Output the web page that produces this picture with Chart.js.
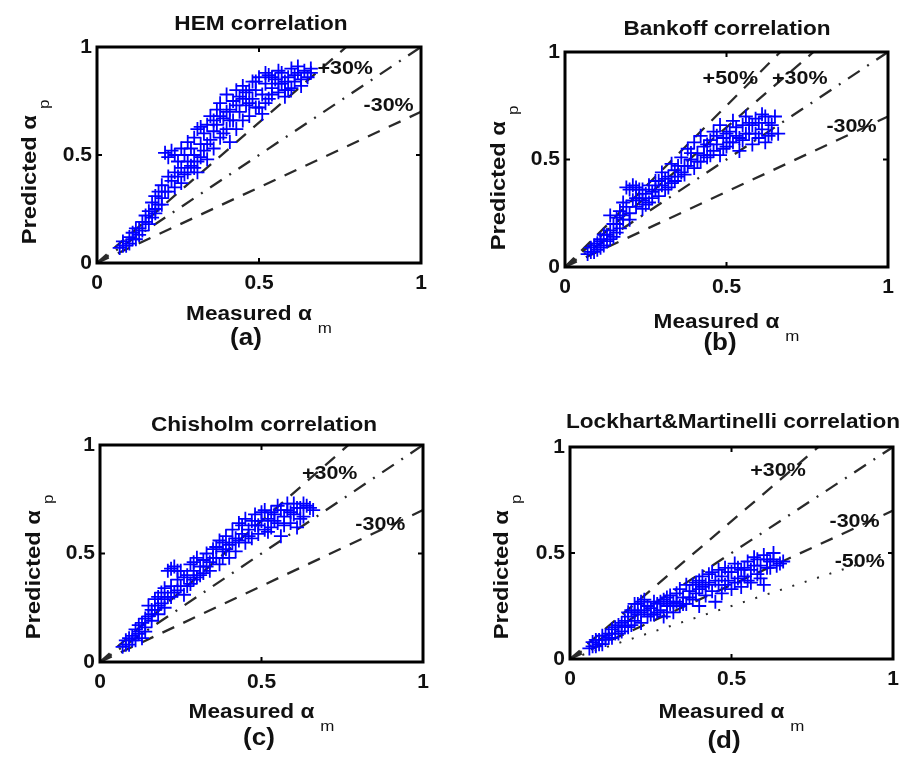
<!DOCTYPE html>
<html>
<head>
<meta charset="utf-8">
<script src="https://cdn.jsdelivr.net/npm/chart.js@4.4.1/dist/chart.umd.min.js"></script>
<style>
  html, body { margin: 0; padding: 0; background: #fff; }
  #wrap { position: relative; width: 908px; height: 766px; }
  .panel { position: absolute; width: 454px; height: 383px; }
</style>
</head>
<body>
<div id="wrap">
  <div class="panel" style="left:0;top:0"><canvas id="chartA" width="454" height="383"></canvas></div>
  <div class="panel" style="left:454px;top:0"><canvas id="chartB" width="454" height="383"></canvas></div>
  <div class="panel" style="left:0;top:383px"><canvas id="chartC" width="454" height="383"></canvas></div>
  <div class="panel" style="left:454px;top:383px"><canvas id="chartD" width="454" height="383"></canvas></div>
</div>
<script>
// tick values shared by both axes of every panel
const axisTicks = [0, 0.5, 1];

// (a) HEM correlation - measured vs predicted void fraction
const hemX = [0.07,0.08,0.09,0.10,0.10,0.11,0.12,0.12,0.13,0.14,0.14,0.15,0.16,0.16,0.17,0.17,0.18,0.18,0.19,0.19,
  0.20,0.20,0.21,0.22,0.23,0.22,0.23,0.24,0.24,0.25,0.25,0.26,0.27,0.27,0.28,0.29,0.29,0.30,0.30,0.31,
  0.31,0.31,0.32,0.33,0.33,0.34,0.35,0.35,0.36,0.37,0.37,0.38,0.38,0.39,0.40,0.40,0.41,0.41,0.42,0.42,
  0.43,0.44,0.44,0.45,0.46,0.46,0.47,0.48,0.48,0.49,0.50,0.50,0.51,0.51,0.52,0.53,0.53,0.54,0.55,0.56,
  0.57,0.57,0.58,0.58,0.59,0.60,0.60,0.61,0.62,0.63,0.64,0.66,
  0.08,0.11,0.13,0.15,0.18,0.20,0.21,0.22,0.24,0.26,0.26,0.28,0.28,0.30,0.32,0.32,0.34,0.34,0.36,0.36,
  0.38,0.39,0.40,0.41,0.43,0.43,0.45,0.45,0.47,0.47,0.49,0.49,0.52,0.52,0.54,0.54,0.56,0.56,0.58,0.59,
  0.61,0.62,0.63,0.65,0.66];
const hemY = [0.07,0.10,0.08,0.12,0.09,0.14,0.11,0.16,0.13,0.19,0.15,0.22,0.18,0.24,0.21,0.28,0.25,0.31,0.27,0.33,
  0.30,0.36,0.51,0.49,0.52,0.33,0.38,0.35,0.42,0.40,0.47,0.44,0.50,0.41,0.47,0.53,0.45,0.58,0.50,0.62,
  0.47,0.42,0.55,0.60,0.52,0.64,0.57,0.68,0.61,0.71,0.64,0.58,0.74,0.67,0.78,0.62,0.71,0.56,0.75,0.66,
  0.80,0.70,0.77,0.82,0.73,0.79,0.68,0.84,0.76,0.80,0.86,0.72,0.78,0.69,0.83,0.76,0.87,0.81,0.85,0.79,
  0.88,0.83,0.77,0.80,0.86,0.90,0.81,0.87,0.91,0.85,0.89,0.88,
  0.08,0.11,0.16,0.19,0.23,0.27,0.33,0.40,0.50,0.37,0.53,0.42,0.56,0.44,0.49,0.63,0.55,0.48,0.66,0.53,
  0.68,0.60,0.70,0.66,0.73,0.62,0.76,0.66,0.80,0.74,0.72,0.84,0.74,0.88,0.78,0.86,0.83,0.89,0.84,0.80,
  0.84,0.88,0.82,0.86,0.90];

// (b) Bankoff correlation
const bankoffX = [0.07,0.08,0.09,0.10,0.10,0.11,0.12,0.12,0.13,0.14,0.14,0.15,0.15,0.16,0.17,0.17,0.18,0.19,0.19,0.20,
  0.21,0.21,0.22,0.23,0.23,0.24,0.25,0.26,0.26,0.27,0.28,0.29,0.30,0.30,0.31,0.32,0.33,0.33,0.34,0.35,
  0.36,0.37,0.37,0.38,0.39,0.40,0.40,0.41,0.42,0.42,0.43,0.44,0.45,0.46,0.46,0.47,0.48,0.48,0.49,0.50,
  0.51,0.52,0.52,0.53,0.54,0.55,0.55,0.56,0.57,0.58,0.58,0.59,0.60,0.61,0.62,0.62,0.63,0.64,0.65,0.66,
  0.08,0.09,0.11,0.11,0.13,0.14,0.16,0.16,0.18,0.18,0.20,0.20,0.22,0.22,0.24,0.24,0.25,0.27,0.28,0.29,
  0.31,0.32,0.34,0.35,0.36,0.38,0.39,0.41,0.43,0.44,0.45,0.47,0.49,0.50,0.51,0.53,0.54,0.56,0.57,0.59,
  0.60,0.61,0.63,0.64];
const bankoffY = [0.06,0.09,0.07,0.11,0.08,0.13,0.10,0.15,0.12,0.17,0.24,0.14,0.20,0.23,0.18,0.26,0.22,0.28,0.37,0.25,
  0.38,0.31,0.28,0.36,0.32,0.27,0.34,0.30,0.38,0.35,0.40,0.33,0.38,0.44,0.36,0.42,0.48,0.39,0.45,0.42,
  0.51,0.47,0.43,0.55,0.50,0.46,0.58,0.53,0.49,0.61,0.56,0.51,0.59,0.54,0.63,0.57,0.52,0.66,0.60,0.56,
  0.63,0.68,0.58,0.61,0.54,0.66,0.59,0.70,0.62,0.57,0.66,0.69,0.60,0.64,0.70,0.58,0.67,0.62,0.70,0.62,
  0.07,0.10,0.09,0.12,0.15,0.13,0.16,0.20,0.24,0.30,0.22,0.36,0.32,0.37,0.31,0.36,0.29,0.32,0.36,0.40,
  0.41,0.37,0.40,0.47,0.44,0.47,0.53,0.49,0.52,0.57,0.52,0.61,0.55,0.62,0.58,0.65,0.60,0.62,0.67,0.62,
  0.67,0.71,0.61,0.66];

// (c) Chisholm correlation
const chisholmX = [0.07,0.08,0.09,0.10,0.11,0.11,0.12,0.13,0.13,0.14,0.15,0.15,0.16,0.17,0.17,0.18,0.19,0.19,0.20,0.21,
  0.21,0.22,0.23,0.23,0.24,0.25,0.25,0.26,0.27,0.28,0.28,0.29,0.30,0.30,0.31,0.32,0.33,0.34,0.34,0.35,
  0.36,0.37,0.37,0.38,0.39,0.40,0.40,0.41,0.42,0.42,0.43,0.44,0.45,0.45,0.46,0.47,0.48,0.48,0.49,0.50,
  0.51,0.51,0.52,0.53,0.54,0.55,0.55,0.56,0.57,0.58,0.59,0.60,0.60,0.61,0.62,0.63,0.64,0.66,
  0.08,0.09,0.10,0.12,0.12,0.14,0.14,0.16,0.16,0.18,0.18,0.20,0.20,0.22,0.22,0.24,0.24,0.26,0.27,0.29,
  0.29,0.31,0.32,0.33,0.35,0.36,0.38,0.38,0.39,0.41,0.43,0.44,0.46,0.47,0.49,0.50,0.52,0.53,0.54,0.56,
  0.57,0.58,0.59,0.61,0.62,0.63,0.65];
const chisholmY = [0.07,0.10,0.08,0.12,0.10,0.15,0.13,0.18,0.11,0.16,0.21,0.26,0.19,0.24,0.29,0.22,0.27,0.32,0.25,0.42,
  0.30,0.35,0.44,0.32,0.38,0.35,0.42,0.31,0.40,0.36,0.45,0.42,0.39,0.48,0.44,0.41,0.50,0.46,0.42,0.52,
  0.48,0.56,0.45,0.51,0.58,0.54,0.48,0.61,0.57,0.51,0.64,0.59,0.55,0.66,0.61,0.57,0.63,0.68,0.59,0.65,
  0.61,0.70,0.66,0.62,0.68,0.64,0.72,0.58,0.67,0.70,0.64,0.73,0.68,0.62,0.71,0.67,0.72,0.70,
  0.08,0.11,0.10,0.14,0.17,0.20,0.14,0.24,0.22,0.26,0.30,0.29,0.34,0.30,0.43,0.33,0.42,0.39,0.35,0.38,
  0.46,0.40,0.47,0.44,0.48,0.53,0.48,0.55,0.52,0.55,0.56,0.63,0.58,0.65,0.63,0.69,0.60,0.69,0.65,0.70,
  0.63,0.73,0.69,0.71,0.66,0.73,0.71];

// (d) Lockhart & Martinelli correlation
const lockhartX = [0.06,0.07,0.08,0.09,0.10,0.10,0.11,0.12,0.13,0.13,0.14,0.15,0.16,0.17,0.17,0.18,0.19,0.19,0.20,0.21,
  0.21,0.22,0.23,0.23,0.24,0.25,0.26,0.27,0.28,0.29,0.29,0.30,0.31,0.32,0.32,0.33,0.34,0.35,0.36,0.36,
  0.37,0.38,0.39,0.39,0.40,0.41,0.41,0.42,0.43,0.44,0.44,0.45,0.46,0.47,0.47,0.48,0.49,0.50,0.50,0.51,
  0.52,0.53,0.53,0.54,0.55,0.56,0.56,0.57,0.58,0.59,0.60,0.60,0.61,0.62,0.63,0.64,0.66,
  0.07,0.08,0.09,0.11,0.12,0.14,0.15,0.16,0.18,0.18,0.20,0.20,0.22,0.22,0.24,0.25,0.26,0.27,0.28,0.30,
  0.30,0.31,0.33,0.34,0.35,0.37,0.38,0.40,0.40,0.42,0.43,0.45,0.46,0.48,0.49,0.51,0.52,0.54,0.55,0.57,
  0.58,0.59,0.61,0.62,0.63,0.65];
const lockhartY = [0.05,0.08,0.06,0.09,0.07,0.11,0.09,0.12,0.10,0.14,0.12,0.16,0.13,0.18,0.15,0.20,0.16,0.23,0.18,0.26,
  0.21,0.17,0.23,0.28,0.20,0.24,0.21,0.26,0.23,0.28,0.20,0.25,0.30,0.22,0.27,0.31,0.25,0.29,0.35,0.26,
  0.32,0.28,0.36,0.31,0.25,0.34,0.39,0.30,0.36,0.32,0.41,0.27,0.35,0.39,0.31,0.43,0.37,0.33,0.41,0.45,
  0.38,0.34,0.42,0.39,0.46,0.36,0.42,0.48,0.40,0.44,0.35,0.49,0.43,0.46,0.50,0.44,0.46,
  0.06,0.09,0.07,0.11,0.10,0.15,0.12,0.17,0.15,0.22,0.22,0.26,0.22,0.27,0.25,0.21,0.27,0.22,0.27,0.22,
  0.29,0.26,0.27,0.33,0.26,0.29,0.35,0.33,0.37,0.35,0.40,0.37,0.42,0.35,0.41,0.36,0.43,0.43,0.37,0.44,
  0.47,0.38,0.47,0.43,0.47,0.45];

// reference lines, as predicted/measured ratio, and their labels
const hemGuides = [1.3, 1.0, 0.7];
const hemLabels = ['+30%', '-30%'];
const bankoffGuides = [1.5, 1.3, 1.0, 0.7];
const bankoffLabels = ['+50%', '+30%', '-30%'];
const chisholmGuides = [1.3, 1.0, 0.7];
const chisholmLabels = ['+30%', '-30%'];
const lockhartGuides = [1.3, 1.0, 0.7, 0.5];
const lockhartLabels = ['+30%', '-30%', '-50%'];

const FONT = '"Liberation Sans", Arial, sans-serif';
const STRETCH = 1.13;

// draw text slightly stretched along its own direction, returns drawn width
function drawText(ctx, text, x, y, font, align, rot) {
  ctx.save();
  ctx.translate(x, y);
  if (rot) ctx.rotate(rot);
  ctx.scale(STRETCH, 1);
  ctx.font = font;
  ctx.textAlign = align || 'left';
  ctx.fillText(text, 0, 0);
  const w = ctx.measureText(text).width * STRETCH;
  ctx.restore();
  return w;
}

function measure(ctx, text, font) {
  ctx.save();
  ctx.font = font;
  const w = ctx.measureText(text).width * STRETCH;
  ctx.restore();
  return w;
}

// label with a subscript, centred on (cx, y) along the text direction
function drawSubLabel(ctx, main, sub, cx, y, rot, size) {
  const mainFont = 'bold ' + size + 'px ' + FONT;
  const subFont = '15px ' + FONT;
  const gap = 6;
  const total = measure(ctx, main, mainFont) + gap + measure(ctx, sub, subFont);
  ctx.save();
  ctx.translate(cx, y);
  if (rot) ctx.rotate(rot);
  ctx.textBaseline = 'alphabetic';
  const w = drawText(ctx, main, -total / 2, 0, mainFont, 'left');
  drawText(ctx, sub, -total / 2 + w + gap, 13, subFont, 'left');
  ctx.restore();
}

const decorPlugin = {
  id: 'decor',
  afterDraw(chart, args, o) {
    const { ctx, chartArea: a, scales: { x, y } } = chart;
    ctx.save();
    ctx.fillStyle = '#111';
    ctx.textBaseline = 'alphabetic';

    // inward tick marks at the middle tick
    ctx.strokeStyle = '#000';
    ctx.lineWidth = 2;
    const mx = x.getPixelForValue(axisTicks[1]);
    const my = y.getPixelForValue(axisTicks[1]);
    ctx.beginPath();
    ctx.moveTo(mx, a.bottom); ctx.lineTo(mx, a.bottom - 5);
    ctx.moveTo(mx, a.top); ctx.lineTo(mx, a.top + 5);
    ctx.moveTo(a.left, my); ctx.lineTo(a.left + 5, my);
    ctx.moveTo(a.right, my); ctx.lineTo(a.right - 5, my);
    ctx.stroke();

    // axes box
    ctx.lineWidth = 3;
    ctx.strokeRect(a.left, a.top, a.right - a.left, a.bottom - a.top);

    // title
    drawText(ctx, o.title, o.titleX, o.titleY, 'bold 20px ' + FONT, 'center');

    // axis labels
    drawSubLabel(ctx, 'Measured \u03b1', 'm', (a.left + a.right) / 2, o.xLabelY, 0, 20);
    drawSubLabel(ctx, 'Predicted \u03b1', 'p', o.yLabelX, o.yLabelY, -Math.PI / 2, 21);

    // panel letter
    drawText(ctx, o.caption, o.captionX, o.captionY, 'bold 23px ' + FONT, 'center');

    // labels of the reference lines
    ctx.textBaseline = 'middle';
    o.labels.forEach((t, i) => {
      const p = o.labelAt[i];
      drawText(ctx, t, x.getPixelForValue(p[0]), y.getPixelForValue(p[1]), 'bold 19px ' + FONT, 'center');
    });
    ctx.restore();
  }
};

function guideStyle(r) {
  if (r === 1) return [14, 9, 2, 9];   // dash-dot 1:1 line
  if (r === 0.5) return [2, 11];       // dotted
  return [13, 10];                     // dashed
}

function makePanel(id, xs, ys, guides, area, decor) {
  const datasets = [{
    data: xs.map((v, i) => ({ x: v, y: ys[i] })),
    pointStyle: 'cross',
    pointRadius: 7,
    pointHoverRadius: 7,
    borderColor: '#0000ff',
    backgroundColor: '#0000ff',
    borderWidth: 1.8,
    order: 0
  }];
  guides.forEach(r => {
    const xEnd = Math.min(1, 1 / r);
    datasets.push({
      data: [{ x: 0, y: 0 }, { x: xEnd, y: xEnd * r }],
      showLine: true,
      pointRadius: 0,
      borderColor: '#2a2a2a',
      borderWidth: r === 0.5 ? 2 : 2.3,
      borderDash: guideStyle(r),
      fill: false,
      order: 1
    });
  });

  const tickFont = { family: FONT, size: 21, weight: 'bold' };
  const tickText = v => String(v);
  new Chart(document.getElementById(id), {
    type: 'scatter',
    data: { datasets },
    options: {
      responsive: false,
      animation: false,
      devicePixelRatio: 1,
      layout: {
        padding: {
          left: area.left - 40,
          top: area.top,
          right: 454 - area.right,
          bottom: 383 - area.bottom - 30
        }
      },
      plugins: {
        legend: { display: false },
        tooltip: { enabled: false },
        decor: decor
      },
      scales: {
        x: {
          type: 'linear', min: 0, max: 1,
          afterFit: s => { s.height = 30; },
          grid: { display: false, drawTicks: false },
          border: { display: false },
          afterBuildTicks: s => { s.ticks = axisTicks.map(v => ({ value: v })); },
          ticks: { padding: 8, font: tickFont, color: '#111', maxRotation: 0, autoSkip: false, callback: tickText }
        },
        y: {
          type: 'linear', min: 0, max: 1,
          afterFit: s => { s.width = 40; },
          grid: { display: false, drawTicks: false },
          border: { display: false },
          afterBuildTicks: s => { s.ticks = axisTicks.map(v => ({ value: v })); },
          ticks: { padding: 5, font: tickFont, color: '#111', autoSkip: false, callback: tickText }
        }
      }
    },
    plugins: [decorPlugin]
  });
}

makePanel('chartA', hemX, hemY, hemGuides,
  { left: 97, top: 47, right: 421, bottom: 263 },
  { title: 'HEM correlation', titleX: 261, titleY: 30, xLabelY: 320, yLabelX: 36, yLabelY: 172,
    caption: '(a)', captionX: 246, captionY: 345,
    labels: hemLabels, labelAt: [[0.766, 0.90], [0.90, 0.73]] });

makePanel('chartB', bankoffX, bankoffY, bankoffGuides,
  { left: 111, top: 52, right: 434, bottom: 267 },
  { title: 'Bankoff correlation', titleX: 273, titleY: 35, xLabelY: 328, yLabelX: 51, yLabelY: 178,
    caption: '(b)', captionX: 266, captionY: 350,
    labels: bankoffLabels, labelAt: [[0.512, 0.876], [0.727, 0.876], [0.887, 0.651]] });

makePanel('chartC', chisholmX, chisholmY, chisholmGuides,
  { left: 100, top: 62, right: 423, bottom: 279 },
  { title: 'Chisholm correlation', titleX: 264, titleY: 48, xLabelY: 335, yLabelX: 40, yLabelY: 184,
    caption: '(c)', captionX: 259, captionY: 362,
    labels: chisholmLabels, labelAt: [[0.711, 0.869], [0.868, 0.631]] });

makePanel('chartD', lockhartX, lockhartY, lockhartGuides,
  { left: 116, top: 64, right: 439, bottom: 276 },
  { title: 'Lockhart&Martinelli correlation', titleX: 279, titleY: 45, xLabelY: 335, yLabelX: 54, yLabelY: 184,
    caption: '(d)', captionX: 270, captionY: 365,
    labels: lockhartLabels, labelAt: [[0.644, 0.89], [0.881, 0.647], [0.897, 0.46]] });
</script>
</body>
</html>
